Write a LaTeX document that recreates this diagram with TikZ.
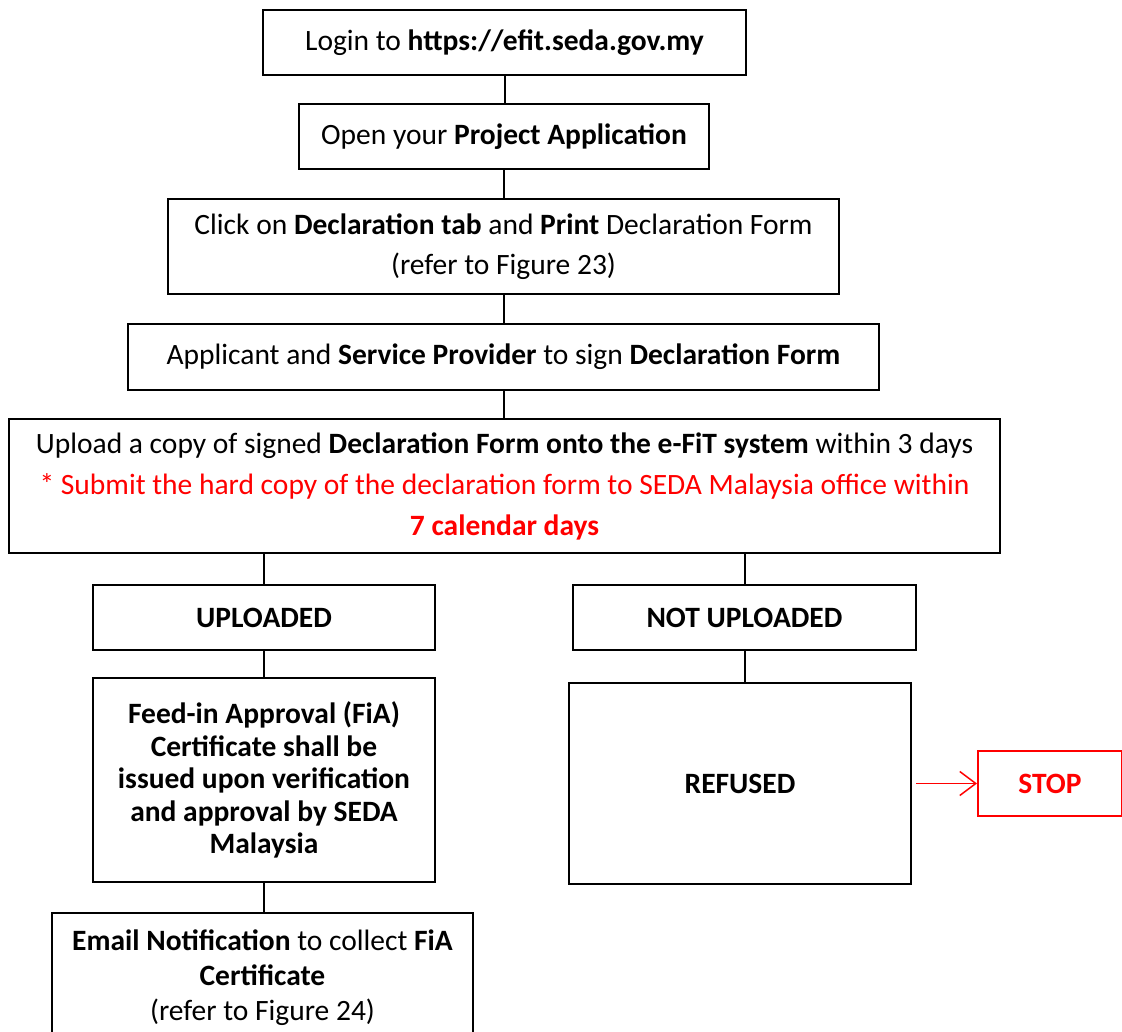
\documentclass[tikz,border=0pt]{standalone}
\usepackage{fontspec}
\setmainfont{Carlito}
\usetikzlibrary{positioning}
\usetikzlibrary {arrows.meta}
\definecolor{sedared}{RGB}{255,0,0}
\tikzset{flowbox/.style={rectangle,draw=black,fill=white,line width=2pt,
inner sep=0pt,align=center,font=\fontsize{29.5}{34}\selectfont}}
\tikzset{flowstop/.style={rectangle,draw=sedared,fill=white,line width=2pt,
inner sep=0pt,align=center,text=sedared,font=\fontsize{29.5}{34}\selectfont\bfseries}}
\tikzset{flowline/.style={line width=2pt}}

\begin{document}
\begin{tikzpicture}[x=1pt,y=-1pt]
        \useasboundingbox (0,0) rectangle (1122,1032);

        \node[flowbox,minimum width=483,minimum height=65] (boxLogin) at (504.5,42.5) {Login to \textbf{https://efit.seda.gov.my}};
        \node[flowbox,minimum width=410,minimum height=65] (boxOpen) at (504,136.5) {Open your \textbf{Project Application}};
        \node[flowbox,minimum width=671,minimum height=95,font=\fontsize{29.5}{40}\selectfont] (boxClick) at (503.5,246.5) {Click on \textbf{Declaration tab} and \textbf{Print} Declaration Form\\(refer to Figure 23)};
        \node[flowbox,minimum width=751,minimum height=66] (boxSign) at (503.5,357) {Applicant and \textbf{Service Provider} to sign \textbf{Declaration Form}};
        \node[flowbox,minimum width=991,minimum height=134,font=\fontsize{29.5}{41}\selectfont] (boxUpload) at (504.5,486) {Upload a copy of signed \textbf{Declaration Form onto the e-FiT system} within 3 days\\
            \textcolor{sedared}{* Submit the hard copy of the declaration form to SEDA Malaysia office within}\\
            \textcolor{sedared}{\textbf{7 calendar days}}};

        \node[flowbox,minimum width=342,minimum height=65] (boxUploaded) at (264,617.5) {\textbf{UPLOADED}};
        \node[flowbox,minimum width=343,minimum height=65] (boxNotUploaded) at (744.5,617.5) {\textbf{NOT UPLOADED}};

        \node[flowbox,minimum width=342,minimum height=204,font=\fontsize{29.5}{32.5}\selectfont\bfseries] (boxFiA) at (264,780) {Feed-in Approval (FiA)\\Certificate shall be\\issued upon verification\\and approval by SEDA\\Malaysia};
        \node[flowbox,minimum width=342,minimum height=201] (boxRefused) at (740,783.5) {\textbf{REFUSED}};
        \node[flowstop,minimum width=144,minimum height=65] (boxStop) [right=65pt of boxRefused] {STOP};

        \node[flowbox,minimum width=421,minimum height=130,font=\fontsize{29.5}{35}\selectfont] (boxEmail) at (262.5,978) {\textbf{Email Notification} to collect \textbf{FiA}\\\textbf{Certificate}\\(refer to Figure 24)};

        % connectors
        \draw[flowline] (boxLogin.south) -- (boxLogin.south |- boxOpen.north);
        \draw[flowline] (boxOpen.south) -- (boxOpen.south |- boxClick.north);
        \draw[flowline] (boxClick.south) -- (boxClick.south |- boxSign.north);
        \draw[flowline] (boxSign.south) -- (boxSign.south |- boxUpload.north);
        \draw[flowline] (boxUploaded.north) -- (boxUploaded.north |- boxUpload.south);
        \draw[flowline] (boxNotUploaded.north) -- (boxNotUploaded.north |- boxUpload.south);
        \draw[flowline] (boxUploaded.south) -- (boxFiA.north);
        \draw[flowline] (boxNotUploaded.south) -- (boxNotUploaded.south |- boxRefused.north);
        \draw[flowline] (boxFiA.south) -- (boxFiA.south |- boxEmail.north);
        \draw[line width=1.5pt,draw=sedared,-{Straight Barb[length=16pt,width=24pt]}] ([xshift=4pt]boxRefused.east) -- (boxStop.west);

\end{tikzpicture}
\end{document}
